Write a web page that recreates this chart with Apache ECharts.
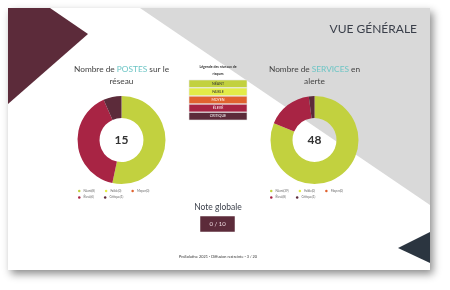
<!DOCTYPE html>
<html><head><meta charset="utf-8">
<script src="https://cdn.jsdelivr.net/npm/echarts@6/dist/echarts.min.js"></script>
<style>html,body{margin:0;padding:0;background:#fff}#c{width:450px;height:290px}</style>
</head><body><div id="c"></div>
<script>
const categories = ['Néant','Faible','Moyen','Élevé','Critique'];
const levelLabels = ['NÉANT','FAIBLE','MOYEN','ÉLEVÉ','CRITIQUE'];
const postesValues = [8,0,0,6,1];
const servicesValues = [39,0,0,8,1];
const noteGlobale = '0 / 10';
const colors = ['#c2d13f','#e3ec48','#e0622f','#a82444','#5c2b3a'];
const FONT = 'Lato';

const chart = echarts.init(document.getElementById('c'));
const sum = a => a.reduce((s,v)=>s+v,0);

function pieData(vals){ return categories.map((n,i)=>({name:n,value:vals[i]})); }
function legendFmt(vals){ return name => name + '(' + vals[categories.indexOf(name)] + ')'; }

const graphics = [
  {type:'rect', shape:{x:8,y:8,width:422,height:262}, style:{fill:'#fff', shadowBlur:8, shadowOffsetX:3, shadowOffsetY:4, shadowColor:'rgba(0,0,0,0.45)'}, z:-10},
  {type:'polygon', shape:{points:[[140,8],[430,8],[430,205]]}, style:{fill:'#d9d9d9'}, z:-9},
  {type:'polygon', shape:{points:[[8,8],[50,8],[88,34],[8,104]]}, style:{fill:'#5c2b3a'}, z:-9},
  {type:'polygon', shape:{points:[[398,248],[430,232],[430,263]]}, style:{fill:'#2b3540'}, z:-9},
  {type:'text', x:417, y:29, style:{text:'VUE GÉNÉRALE', font:'12px '+FONT, fill:'#3a3f4a', align:'right', verticalAlign:'middle'}},
  {type:'text', x:121.5, y:140, style:{text:String(sum(postesValues)), font:'bold 12px '+FONT, fill:'#333', align:'center', verticalAlign:'middle'}, z:10},
  {type:'text', x:314.5, y:140, style:{text:String(sum(servicesValues)), font:'bold 12px '+FONT, fill:'#333', align:'center', verticalAlign:'middle'}, z:10},
  {type:'text', x:218, y:63, style:{text:'Légende des niveaux de\nrisques', font:'bold 3.5px '+FONT, lineHeight:7, fill:'#333', align:'center'}},
  {type:'text', x:218, y:207, style:{text:'Note globale', font:'8.5px '+FONT, fill:'#3a3f4a', align:'center', verticalAlign:'middle'}},
  {type:'rect', shape:{x:200,y:216,width:35,height:16}, style:{fill:'#5c2b3a', stroke:'#fff', lineWidth:0.5}},
  {type:'text', x:217.5, y:224, style:{text:noteGlobale, font:'6px '+FONT, fill:'#f0dde2', align:'center', verticalAlign:'middle'}},
  {type:'text', x:218, y:257, style:{text:'ProSolutive 2021 - Diffusion restreinte - 3 / 20', font:'3.8px '+FONT, fill:'#333', align:'center', verticalAlign:'middle'}}
];
levelLabels.forEach((t,i)=>{
  const y = 80 + i*8.1;
  graphics.push({type:'rect', shape:{x:189,y:y,width:58,height:7.6}, style:{fill:colors[i], stroke:'#e8e8e8', lineWidth:0.6}});
  graphics.push({type:'text', x:218, y:y+3.9, style:{text:t, font:'3.6px '+FONT, fill: i<2 ? '#333' : '#fff', align:'center', verticalAlign:'middle'}});
});

const titleRich = {
  a:{fontSize:8.3, fontWeight:'normal', color:'#444', fontFamily:FONT, lineHeight:12},
  b:{fontSize:8.3, fontWeight:'normal', color:'#6cc5c5', fontFamily:FONT, lineHeight:12}
};

function mkLegend(left, top, data, vals, gap){
  return {data:data, left:left, top:top, orient:'horizontal', icon:'circle', itemWidth:2.5, itemHeight:2.5, itemGap:gap, padding:0,
    formatter:legendFmt(vals), textStyle:{fontSize:3, color:'#666', padding:[0,0,0,-2]}};
}

chart.setOption({
  animation:false,
  color:colors,
  textStyle:{fontFamily:FONT},
  title:[
    {text:'{a|Nombre de }{b|POSTES}{a| sur le}\n{a|réseau}', left:121.5, top:63.5, textAlign:'center', textStyle:{rich:titleRich}, padding:0},
    {text:'{a|Nombre de }{b|SERVICES}{a| en}\n{a|alerte}', left:314.5, top:63.5, textAlign:'center', textStyle:{rich:titleRich}, padding:0}
  ],
  legend:[
    mkLegend(78, 189.5, categories.slice(0,3), postesValues, 10),
    mkLegend(78, 196, categories.slice(3), postesValues, 10),
    mkLegend(270, 189.5, categories.slice(0,3), servicesValues, 10),
    mkLegend(270, 196, categories.slice(3), servicesValues, 10)
  ],
  series:[
    {type:'pie', radius:[22,44], center:[121.5,140], startAngle:90, label:{show:false}, labelLine:{show:false}, silent:true,
     data:pieData(postesValues)},
    {type:'pie', radius:[22,44], center:[314.5,140], startAngle:90, label:{show:false}, labelLine:{show:false}, silent:true,
     data:pieData(servicesValues)}
  ],
  graphic:graphics
});
</script></body></html>
